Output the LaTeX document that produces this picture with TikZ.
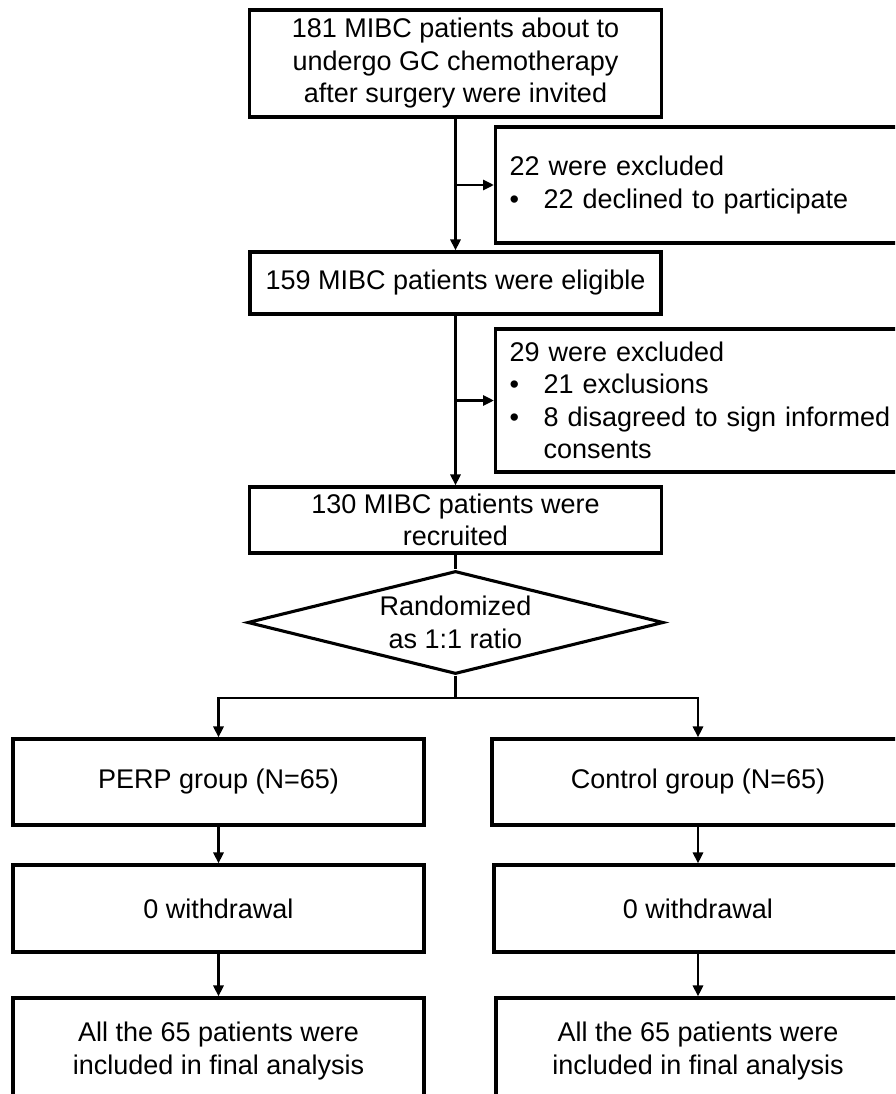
\documentclass[tikz,border=0pt]{standalone}
\usepackage{fontspec}
\setmainfont{Liberation Sans}
\usetikzlibrary{arrows.meta,shapes.geometric}
\begin{document}
\begin{tikzpicture}[x=1pt,y=-1pt,
  txt/.style={font=\fontsize{27}{32.5}\selectfont},
  box/.style={draw, line width=3.1pt, inner sep=0pt, align=center, txt},
  excl/.style={draw, line width=3.1pt, anchor=west, minimum width=420pt,
    text width=392pt, align=left, inner xsep=14pt, inner ysep=0pt, txt},
  conn/.style={line width=2.8pt},
  arr/.style={conn, -{Triangle[length=11pt,width=10pt]}}]
\useasboundingbox (0,0) rectangle (895,1094);
\clip (0,0) rectangle (895,1094);
\fill[white] (0,0) rectangle (895,1094);

% main column
\node[box, minimum width=412pt, minimum height=107pt] (invited) at (455.5,63.5)
  {181 MIBC patients about to\\undergo GC chemotherapy\\after surgery were invited};
\node[box, minimum width=411pt, minimum height=62pt] (eligible) at (455.5,283)
  {159 MIBC patients were eligible};
\node[box, minimum width=412pt, minimum height=66pt] (recruited) at (455.5,520)
  {130 MIBC patients were\\recruited};
\node[box, diamond, aspect=4.04, minimum width=416pt, minimum height=103pt] (rand) at (455.5,622.5)
  {Randomized\\as 1:1 ratio};

% exclusion boxes
\node[excl, minimum height=116pt] (excla) at (494,185)
  {22 were excluded\\\makebox[34pt][l]{\textbullet}22 declined to participate};
\node[excl, minimum height=143pt] (exclb) at (494,400.5)
  {29 were excluded\\\makebox[34pt][l]{\textbullet}21 exclusions\\\makebox[34pt][l]{\textbullet}8 disagreed to sign informed\\\hspace*{34pt}consents};

% groups
\node[box, minimum width=411pt, minimum height=86pt] (perp) at (218.5,782)
  {PERP group (N=65)};
\node[box, minimum width=411pt, minimum height=87pt] (wl) at (218.5,908.5)
  {0 withdrawal};
\node[box, minimum width=411pt, minimum height=106pt] (fl) at (218.5,1051)
  {All the 65 patients were\\included in final analysis};

\node[box, minimum width=412pt, minimum height=86pt] (ctrl) at (698,782)
  {Control group (N=65)};
\node[box, minimum width=408pt, minimum height=87pt] (wr) at (698,908.5)
  {0 withdrawal};
\node[box, minimum width=404pt, minimum height=106pt] (fr) at (698,1051)
  {All the 65 patients were\\included in final analysis};

% connectors
\draw[arr] (invited.south) -- (eligible.north);
\draw[arr] (invited.south |- excla.west) -- (excla.west);
\draw[arr] (eligible.south) -- (recruited.north);
\draw[arr] (eligible.south |- exclb.west) -- (exclb.west);
\draw[conn] (recruited.south) -- (rand.north);
\coordinate (split) at (455.5,698);
\draw[conn] (rand.south) -- (split);
\draw[arr] (split) -| (perp.north);
\draw[arr] (split) -| (ctrl.north);
\draw[arr] (perp.south) -- (wl.north);
\draw[arr] (wl.south) -- (fl.north);
\draw[arr] (ctrl.south) -- (wr.north);
\draw[arr] (wr.south) -- (fr.north);
\end{tikzpicture}
\end{document}
